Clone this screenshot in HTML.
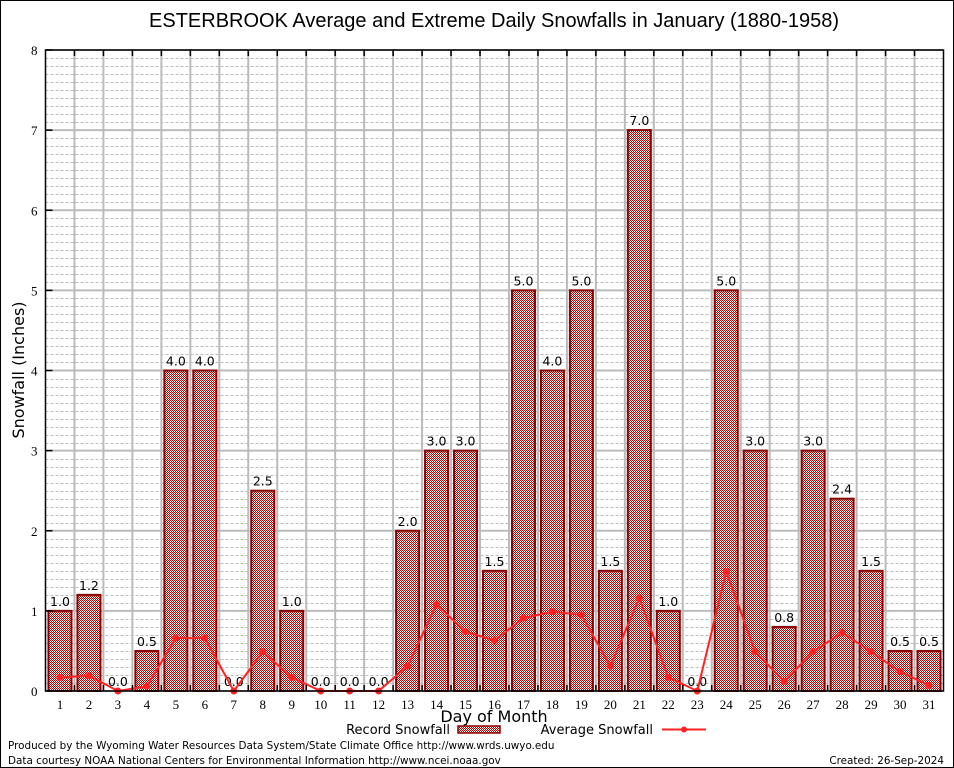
<!DOCTYPE html>
<html><head><meta charset="utf-8"><style>
body{margin:0;background:#fff}
svg{display:block;font-family:"DejaVu Sans",sans-serif}
</style></head><body>
<svg id="chart" width="954" height="768" viewBox="0 0 954 768">
<defs>
<pattern id="hatch" width="2" height="2" patternUnits="userSpaceOnUse">
<rect width="2" height="2" fill="#fff"/>
<rect x="0" y="0" width="1" height="1" fill="#a00"/>
<rect x="1" y="1" width="1" height="1" fill="#a00"/>
</pattern>
</defs>
<rect x="0.5" y="0.5" width="953" height="767" fill="#fff" stroke="#000"/>
<text x="494" y="27" font-size="20" text-anchor="middle" font-family="Liberation Sans,sans-serif">ESTERBROOK Average and Extreme Daily Snowfalls in January (1880-1958)</text>
<g id="grid"></g>
<g id="bars"></g>
<g id="line"></g>
<g id="axes"></g>
<text transform="translate(24,370) rotate(-90)" font-size="16" text-anchor="middle">Snowfall (Inches)</text>
<text x="494" y="722" font-size="16" text-anchor="middle">Day of Month</text>
<g>
<text x="450" y="734" font-size="13" text-anchor="end">Record Snowfall</text>
<rect x="458" y="726" width="42" height="7" fill="url(#hatch)" stroke="#8b0000" stroke-width="1.5"/>
<text x="653" y="734" font-size="13" text-anchor="end">Average Snowfall</text>
<line x1="662" y1="729.5" x2="706" y2="729.5" stroke="#f22" stroke-width="2"/>
<circle cx="684" cy="729.5" r="3" fill="#f22"/>
</g>
<text x="8" y="749" font-size="10.4">Produced by the Wyoming Water Resources Data System/State Climate Office http://www.wrds.uwyo.edu</text>
<text x="8" y="764" font-size="10.4">Data courtesy NOAA National Centers for Environmental Information http://www.ncei.noaa.gov</text>
<text x="944" y="764" font-size="10.4" text-anchor="end">Created: 26-Sep-2024</text>
</svg>
<script>
const days = [1,2,3,4,5,6,7,8,9,10,11,12,13,14,15,16,17,18,19,20,21,22,23,24,25,26,27,28,29,30,31];
const recordSnow = [1.0,1.2,0.0,0.5,4.0,4.0,0.0,2.5,1.0,0.0,0.0,0.0,2.0,3.0,3.0,1.5,5.0,4.0,5.0,1.5,7.0,1.0,0.0,5.0,3.0,0.8,3.0,2.4,1.5,0.5,0.5];
const avgSnow = [0.17,0.19,0.0,0.06,0.66,0.66,0.0,0.49,0.17,0.0,0.0,0.0,0.31,1.08,0.74,0.63,0.91,0.99,0.95,0.31,1.16,0.17,0.0,1.49,0.49,0.12,0.49,0.73,0.49,0.24,0.07];
const yTicks = [0,1,2,3,4,5,6,7,8];

const NS='http://www.w3.org/2000/svg';
const L=45.5,R=943.5,T=50,B=691,YMAX=8;
const slot=(R-L)/days.length;
const xS=i=>L+slot*(i+0.5);
const yS=v=>B-(v/YMAX)*(B-T);
function mk(tag,attrs,parent){const e=document.createElementNS(NS,tag);for(const k in attrs)e.setAttribute(k,attrs[k]);parent.appendChild(e);return e;}
const grid=document.getElementById('grid'),bars=document.getElementById('bars'),line=document.getElementById('line'),axes=document.getElementById('axes');

for(let m=0;m<YMAX*10;m++){
  if(m%10===0)continue;
  const y=Math.round(yS(m/10))+0.5;
  const g=mk('line',{x1:L,x2:R,y1:y,y2:y,stroke:'#bbb','stroke-width':1,'stroke-dasharray':'3,2'},grid);
  
  
}
yTicks.forEach(v=>{
  const y=yS(v);
  const g=mk('line',{x1:L,x2:R,y1:y,y2:y,stroke:'#bbb','stroke-width':2},grid);
  
  
  const t=mk('text',{x:L-8,y:y+5,'font-size':13,'text-anchor':'end','font-family':'Liberation Serif,serif'},axes);
  t.textContent=v;
  
  
  const tk=mk('line',{x1:L,x2:L+7,y1:y,y2:y,stroke:'#000','stroke-width':1.5},axes);
  
  
});
for(let i=1;i<days.length;i++){
  const x=L+slot*i;
  const g=mk('line',{x1:x,x2:x,y1:T,y2:B,stroke:'#bbb','stroke-width':2},grid);
  
  
  const tk=mk('line',{x1:x,x2:x,y1:T,y2:T+6,stroke:'#000','stroke-width':1.5},axes);
  
  
  const tb=mk('line',{x1:x,x2:x,y1:B,y2:B-6,stroke:'#000','stroke-width':1.5},axes);
  
  
}
const bw=23;
days.forEach((d,i)=>{
  const v=recordSnow[i],x=xS(i);
  if(v>0){
    const r=mk('rect',{x:x-bw/2,y:yS(v),width:bw,height:B-yS(v),fill:'url(#hatch)',stroke:'#8b0000','stroke-width':2},bars);
    
    
  }
  const t=mk('text',{x:x,y:yS(v)-5,'font-size':12.5,'text-anchor':'middle'},bars);
  t.textContent=v.toFixed(1);
  
  
  const xl=mk('text',{x:x,y:B+18,'font-size':13,'text-anchor':'middle','font-family':'Liberation Serif,serif'},axes);
  xl.textContent=d;
  
  
});
const pts=avgSnow.map((v,i)=>xS(i)+','+yS(v)).join(' ');
const pl=mk('polyline',{points:pts,fill:'none',stroke:'#f22','stroke-width':2},line);


avgSnow.forEach((v,i)=>{
  const c=mk('circle',{cx:xS(i),cy:yS(v),r:3.5,fill:'#f22'},line);
  
  
});
const ax=mk('rect',{x:L,y:T,width:R-L,height:B-T,fill:'none',stroke:'#000','stroke-width':1.5},axes);


</script>
</body></html>
